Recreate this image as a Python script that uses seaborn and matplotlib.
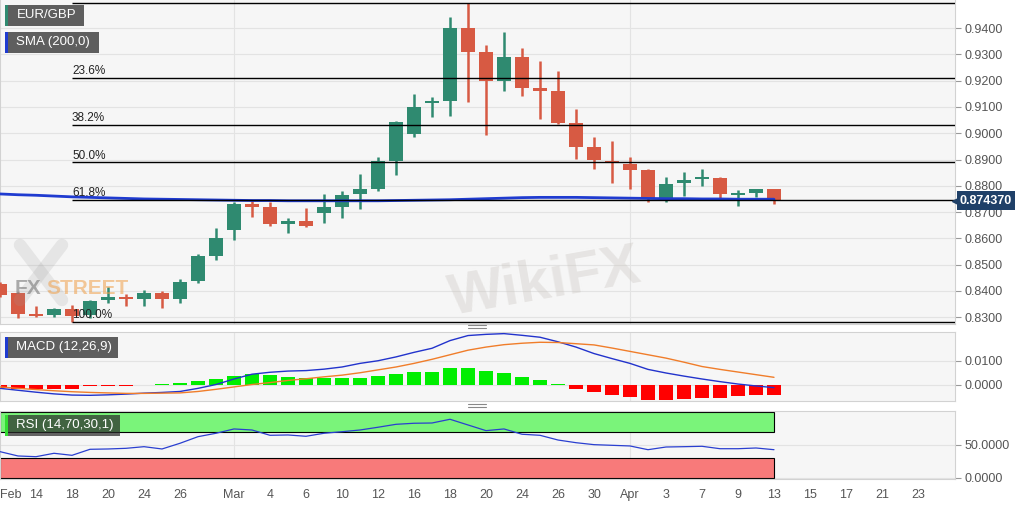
import numpy as np
import matplotlib
matplotlib.use("Agg")
import matplotlib.pyplot as plt
import matplotlib.transforms as mtransforms
from matplotlib.patches import Rectangle
from matplotlib.lines import Line2D
import seaborn as sns

# EUR/GBP daily candles, 12 Feb - 13 Apr 2020
opens = [0.8427, 0.8392, 0.8313, 0.8309, 0.8332, 0.8309, 0.8366, 0.8377, 0.8370, 0.8392,
         0.8370, 0.8438, 0.8533, 0.8632, 0.8731, 0.8719, 0.8655, 0.8666, 0.8697, 0.8719,
         0.8769, 0.8788, 0.8894, 0.8997, 0.9115, 0.9122, 0.9400, 0.9309, 0.9198, 0.9290,
         0.9172, 0.9160, 0.9039, 0.8948, 0.8894, 0.8883, 0.8860, 0.8754, 0.8811, 0.8826,
         0.8830, 0.8765, 0.8773, 0.8788]
highs = [0.8434, 0.8396, 0.8343, 0.8335, 0.8347, 0.8366, 0.8415, 0.8389, 0.8404, 0.8400,
         0.8446, 0.8541, 0.8640, 0.8738, 0.8742, 0.8738, 0.8678, 0.8716, 0.8769, 0.8780,
         0.8845, 0.8910, 0.9046, 0.9149, 0.9138, 0.9442, 0.9496, 0.9335, 0.9385, 0.9324,
         0.9275, 0.9237, 0.9092, 0.8986, 0.8970, 0.8910, 0.8862, 0.8833, 0.8852, 0.8864,
         0.8833, 0.8784, 0.8789, 0.8789]
lows = [0.8377, 0.8297, 0.8301, 0.8301, 0.8282, 0.8298, 0.8354, 0.8343, 0.8343, 0.8335,
        0.8354, 0.8430, 0.8518, 0.8594, 0.8681, 0.8647, 0.8621, 0.8645, 0.8659, 0.8678,
        0.8712, 0.8780, 0.8841, 0.8986, 0.9062, 0.9065, 0.9119, 0.8993, 0.9160, 0.9141,
        0.9054, 0.9035, 0.8902, 0.8864, 0.8811, 0.8788, 0.8738, 0.8738, 0.8761, 0.8799,
        0.8754, 0.8723, 0.8757, 0.8731]
closes = [0.8385, 0.8313, 0.8305, 0.8332, 0.8305, 0.8362, 0.8377, 0.8370, 0.8392, 0.8370,
          0.8434, 0.8533, 0.8602, 0.8731, 0.8719, 0.8655, 0.8666, 0.8647, 0.8719, 0.8765,
          0.8788, 0.8894, 0.9043, 0.9100, 0.9122, 0.9400, 0.9309, 0.9198, 0.9290, 0.9172,
          0.9160, 0.9039, 0.8948, 0.8898, 0.8887, 0.8860, 0.8754, 0.8807, 0.8822, 0.8830,
          0.8769, 0.8773, 0.8788, 0.874370]
sma200 = [0.8769, 0.8766, 0.8764, 0.8761, 0.8758, 0.8756, 0.8754, 0.8752, 0.8750, 0.8749,
          0.8748, 0.8747, 0.8746, 0.8745, 0.8744, 0.8744, 0.8743, 0.8743, 0.8743, 0.8743,
          0.8743, 0.8743, 0.8744, 0.8745, 0.8746, 0.8747, 0.8749, 0.8751, 0.8753, 0.8755,
          0.8756, 0.8756, 0.8756, 0.8755, 0.8754, 0.8753, 0.8752, 0.8751, 0.8751, 0.8750,
          0.8750, 0.8749, 0.8749, 0.8749]

# MACD (12,26,9)
macd_line = [-0.0014, -0.0022, -0.0030, -0.0037, -0.0042, -0.0043, -0.0041, -0.0038, -0.0034, -0.0031,
             -0.0027, -0.0014, 0.0002, 0.0025, 0.0045, 0.0053, 0.0058, 0.0060, 0.0066, 0.0075,
             0.0090, 0.0101, 0.0117, 0.0136, 0.0153, 0.0185, 0.0206, 0.0211, 0.0214, 0.0207,
             0.0199, 0.0180, 0.0158, 0.0131, 0.0110, 0.0090, 0.0065, 0.0050, 0.0037, 0.0025,
             0.0014, 0.0004, -0.0004, -0.0011]
signal_line = [-0.0008, -0.0014, -0.0019, -0.0024, -0.0028, -0.0031, -0.0033, -0.0035, -0.0035, -0.0034,
               -0.0033, -0.0027, -0.0018, -0.0008, 0.0002, 0.0010, 0.0019, 0.0026, 0.0034, 0.0041,
               0.0051, 0.0063, 0.0075, 0.0090, 0.0107, 0.0126, 0.0145, 0.0158, 0.0168, 0.0174,
               0.0178, 0.0177, 0.0172, 0.0167, 0.0154, 0.0140, 0.0126, 0.0112, 0.0095, 0.0077,
               0.0065, 0.0054, 0.0043, 0.0032]
macd_hist = [-0.0014, -0.0016, -0.0016, -0.0016, -0.0016, -0.0006, -0.0006, -0.0006, 0.0001, 0.0003,
             0.0007, 0.0017, 0.0025, 0.0037, 0.0044, 0.0040, 0.0035, 0.0031, 0.0031, 0.0031,
             0.0031, 0.0036, 0.0047, 0.0054, 0.0054, 0.0070, 0.0069, 0.0057, 0.0051, 0.0035,
             0.0021, 0.0003, -0.0017, -0.0030, -0.0043, -0.0050, -0.0061, -0.0061, -0.0058, -0.0053,
             -0.0053, -0.0047, -0.0043, -0.0040]

# RSI (14,70,30,1)
rsi = [39.8, 33.2, 32.1, 37.3, 34.2, 43.4, 43.9, 44.9, 47.4, 43.9,
       52.6, 62.7, 67.9, 74.5, 72.9, 64.8, 65.3, 63.3, 67.9, 70.3,
       72.9, 77.1, 81.6, 83.2, 83.6, 89.3, 80.6, 71.9, 74.5, 66.4,
       64.8, 57.6, 53.5, 50.5, 49.5, 48.5, 42.8, 46.9, 47.4, 48.0,
       44.3, 44.3, 45.4, 42.8]

tick_pos = [0, 2, 4, 6, 8, 10, 13, 15, 17, 19, 21, 23, 25, 27, 29, 31, 33, 35, 37, 39, 41, 43, 45, 47, 49, 51]
tick_labels = ["Feb", "14", "18", "20", "24", "26", "Mar", "4", "6", "10", "12", "16", "18", "20",
               "24", "26", "30", "Apr", "3", "7", "9", "13", "15", "17", "21", "23"]

fib_high = 0.9496
fib_low = 0.8282
fib_ratios = [0.0, 0.236, 0.382, 0.5, 0.618, 1.0]

sns.set_style("white")
plt.rcParams["font.family"] = ["Liberation Sans", "DejaVu Sans"]

GREEN = "#2f8a70"
RED = "#d75a43"
PANEL = "#f6f6f6"
GRID = "#e3e3e3"
SPINE = "#d2d2d2"

W, H = 1032, 505
fig = plt.figure(figsize=(W / 100, H / 100), dpi=100)
fig.patch.set_facecolor("white")


def fbox(x0, y0, x1, y1):
    return [x0 / W, 1 - y1 / H, (x1 - x0) / W, (y1 - y0) / H]


ax = fig.add_axes(fbox(0, 0, 955, 324))
ax_m = fig.add_axes(fbox(0, 332, 955, 401))
ax_r = fig.add_axes(fbox(0, 410.7, 955, 479))

x = np.arange(len(closes))
o = np.array(opens)
c = np.array(closes)
xmax = 955 / 18

for a in (ax, ax_m, ax_r):
    a.set_facecolor(PANEL)
    a.set_xlim(0, xmax)
    a.yaxis.tick_right()
    a.tick_params(axis="y", length=4, color="#999999", labelsize=9, labelcolor="#555555", pad=3)
    a.grid(axis="y", color=GRID, lw=0.8)
    a.set_axisbelow(True)
    for s in a.spines.values():
        s.set_color(SPINE)
        s.set_linewidth(0.8)
    for p, lab in zip(tick_pos, tick_labels):
        if lab in ("Mar", "Apr"):
            a.axvline(p, color=GRID, lw=0.8, zorder=0)
ax.spines["top"].set_visible(False)

# ---- price panel ----
up = c >= o
cols = np.where(up, GREEN, RED)
ax.vlines(x, lows, highs, colors=cols, lw=1.8, zorder=3)
body_h = np.maximum(np.abs(c - o), 0.0008)
ax.bar(x, body_h, bottom=np.minimum(o, c), width=0.78, color=cols, linewidth=0, zorder=4)

sns.lineplot(x=x, y=sma200, ax=ax, color="#1f3bd0", lw=2, legend=False, zorder=5)

levels = [fib_high - (fib_high - fib_low) * r for r in fib_ratios]
ax.hlines(levels, 4, xmax, color="black", lw=1, zorder=6)
for r, lv in zip(fib_ratios, levels):
    if r > 0:
        ax.text(4, lv + 0.0003, f"{r * 100:.1f}%", fontsize=8.5, color="#222222", va="bottom", ha="left", zorder=7)

ax.set_ylim(0.82745, 0.95065)
ax.set_yticks(np.arange(0.83, 0.9401, 0.01))
ax.set_yticklabels([f"{v:.4f}" for v in np.arange(0.83, 0.9401, 0.01)])
ax.set_xticks([])
ax.set_ylabel("")

trans = mtransforms.blended_transform_factory(ax.transAxes, ax.transData)
ax.text(1.005, closes[-1], f"{closes[-1]:.6f}", transform=trans, ha="left", va="center",
        color="white", fontsize=9, fontweight="bold", zorder=10, clip_on=False,
        bbox=dict(boxstyle="square,pad=0.25", fc="#1f4068", ec="none"))
ax.plot([1.0], [closes[-1]], marker="<", ms=4, color="#1f4068", transform=trans, clip_on=False, zorder=10)

# ---- MACD panel ----
hcols = np.where(np.array(macd_hist) >= 0, "#00ee00", "#ff0000")
ax_m.bar(x, macd_hist, width=0.78, color=hcols, linewidth=0, zorder=2)
sns.lineplot(x=x, y=macd_line, ax=ax_m, color="#2233cc", lw=1, legend=False, zorder=3)
sns.lineplot(x=x, y=signal_line, ax=ax_m, color="#f07d2a", lw=1, legend=False, zorder=3)
ax_m.set_ylim(-0.00667, 0.02208)
ax_m.set_yticks([0.0, 0.01])
ax_m.set_yticklabels(["0.0000", "0.0100"])
ax_m.set_xticks([])

# ---- RSI panel ----
n = len(rsi) - 1
ax_r.add_patch(Rectangle((0, 70), n, 30, fc="#7af47a", ec="black", lw=0.8, zorder=1))
ax_r.add_patch(Rectangle((0, 0), n, 30, fc="#f87a7a", ec="black", lw=0.8, zorder=1))
sns.lineplot(x=x, y=rsi, ax=ax_r, color="#2a3fd0", lw=0.9, legend=False, zorder=3)
ax_r.set_ylim(-2.0, 102.4)
ax_r.set_yticks([0, 50])
ax_r.set_yticklabels(["0.0000", "50.0000"])
ax_r.set_xticks(tick_pos)
ax_r.set_xticklabels(tick_labels)
ax_r.tick_params(axis="x", length=3, color="#999999", labelsize=9, labelcolor="#555555", pad=4)
ax_r.get_xticklabels()[0].set_ha("left")


# ---- label boxes ----
def label_box(x0, y0, x1, y1, text, bar, face="#5e5e5e", alpha=1.0):
    fig.add_artist(Rectangle((x0 / W, 1 - y1 / H), (x1 - x0) / W, (y1 - y0) / H,
                             transform=fig.transFigure, fc=face, ec="none", alpha=alpha, zorder=20))
    fig.add_artist(Rectangle((x0 / W, 1 - y1 / H), 2.5 / W, (y1 - y0) / H,
                             transform=fig.transFigure, fc=bar, ec="none", zorder=21))
    fig.text((x0 + 11.5) / W, 1 - (y0 + y1) / 2 / H, text, color="white", fontsize=9.5,
             va="center", ha="left", zorder=22)


label_box(5, 5, 84, 25.5, "EUR/GBP", GREEN)
label_box(5, 32, 99, 52.5, "SMA (200,0)", "#1f3bd0")
label_box(5, 337, 118, 357.5, "MACD (12,26,9)", "#1f3bd0")
label_box(5, 415, 120, 435.5, "RSI (14,70,30,1)", "#33dd33", face="#2b2b2b", alpha=0.72)

# drag handles between panels
for yy in (326.5, 405.5):
    for dy in (-1.2, 1.2):
        fig.add_artist(Line2D([468 / W, 486 / W], [1 - (yy + dy) / H] * 2, transform=fig.transFigure,
                              color="#888888", lw=0.8))

# watermarks (faint logo marks as in the source image)
fig.add_artist(Line2D([20 / W, 62 / W], [1 - 245 / H, 1 - 300 / H], transform=fig.transFigure,
                      color="#9a9a9a", lw=9, alpha=0.18, zorder=15))
fig.add_artist(Line2D([20 / W, 62 / W], [1 - 300 / H, 1 - 245 / H], transform=fig.transFigure,
                      color="#9a9a9a", lw=9, alpha=0.18, zorder=15))
fig.text(15 / W, 1 - 288 / H, "FX", fontsize=15, fontweight="bold", color="#777777", alpha=0.6,
         va="center", ha="left", zorder=15)
fig.text(46 / W, 1 - 288 / H, "STREET", fontsize=15, fontweight="bold", color="#f0a04a", alpha=0.55,
         va="center", ha="left", zorder=15)
fig.text(545 / W, 1 - 283 / H, "WikiFX", fontsize=42, fontweight="bold", color="#c9c4bf", alpha=0.35,
         va="center", ha="center", rotation=10, zorder=15)

fig.savefig("out.png", dpi=100, facecolor="white")
